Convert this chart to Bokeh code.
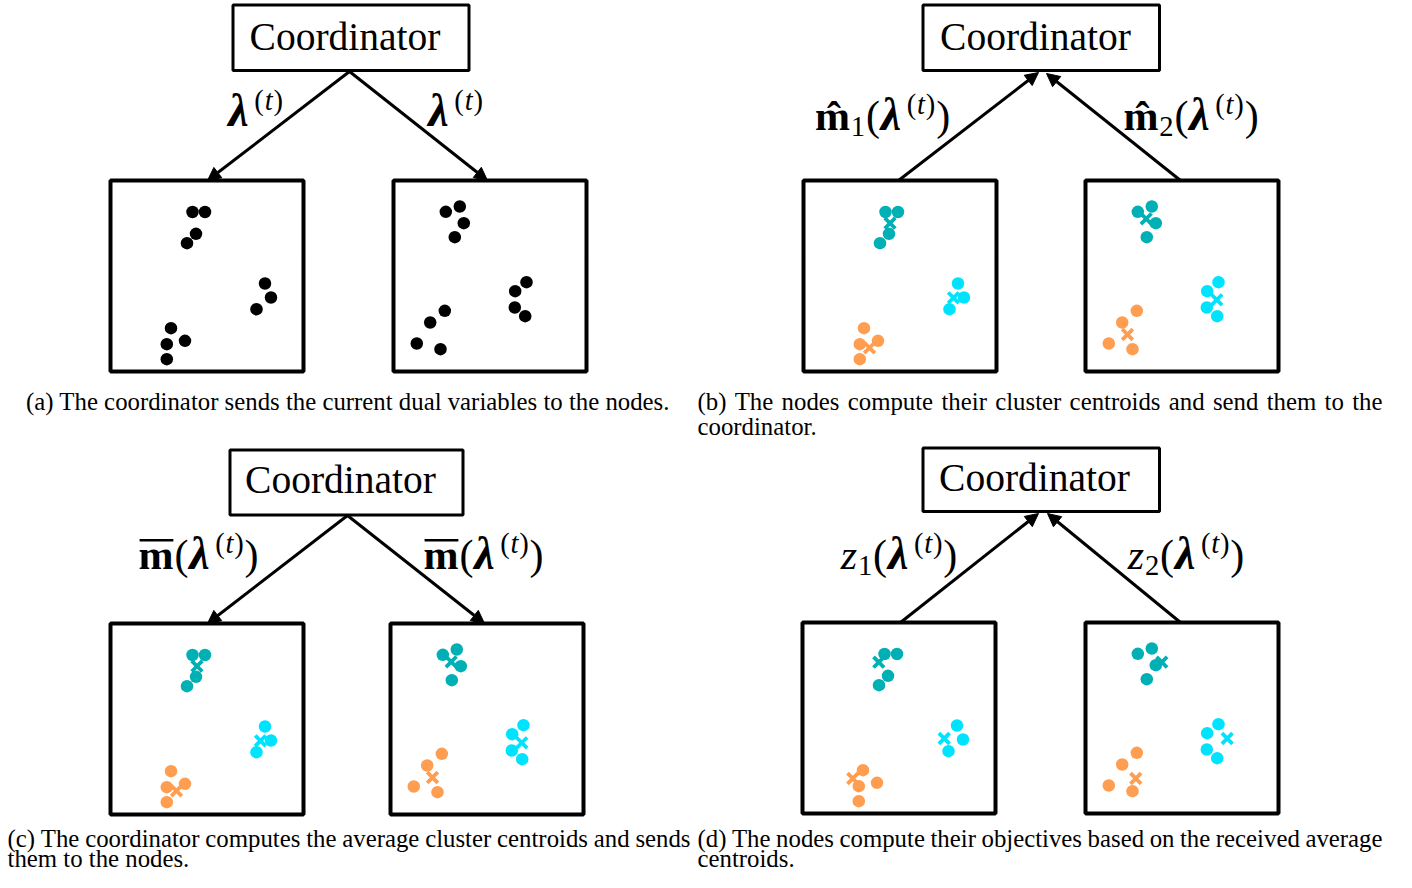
from bokeh.plotting import figure
from bokeh.models import Range1d, Arrow, NormalHead, ColumnDataSource
from bokeh.core.properties import value
from bokeh.embed import file_html
from bokeh.resources import INLINE

# ---------------- data (positions inside a node box, px from its top-left) -------------
node1_teal_x = [82.0, 94.5, 85.5, 76.5]
node1_teal_y = [31.5, 31.5, 53.3, 62.7]
node1_cyan_x = [154.5, 160.5, 146.0]
node1_cyan_y = [103.0, 117.0, 128.7]
node1_orange_x = [60.5, 74.5, 56.3, 56.3]
node1_orange_y = [147.7, 160.3, 163.7, 178.7]

node2_teal_x = [52.3, 66.3, 70.3, 61.3]
node2_teal_y = [31.3, 26.0, 42.7, 56.7]
node2_cyan_x = [133.0, 121.7, 121.3, 131.7]
node2_cyan_y = [101.7, 110.7, 127.0, 135.7]
node2_orange_x = [51.3, 36.7, 23.3, 47.0]
node2_orange_y = [130.3, 142.0, 163.0, 168.7]

# centroids: teal, cyan, orange
node1_centroid_x = [86.5, 150.0, 66.0]
node1_centroid_y = [42.7, 117.3, 167.3]
node2_centroid_x = [60.7, 131.3, 42.0]
node2_centroid_y = [38.3, 119.3, 154.0]
avg_centroid_x = [76.3, 141.7, 50.3]
avg_centroid_y = [39.7, 116.0, 156.0]

cluster_colors = ["#00B0B5", "#00E3FF", "#FF9D50"]

caption_a = "(a) The coordinator sends the current dual variables to the nodes."
caption_b = ["(b) The nodes compute their cluster centroids and send them to the", "coordinator."]
caption_c = ["(c) The coordinator computes the average cluster centroids and sends", "them to the nodes."]
caption_d = ["(d) The nodes compute their objectives based on the received average", "centroids."]
coordinator_label = "Coordinator"

# ---------------- figure ----------------
W, H = 1396, 872
p = figure(width=W, height=H, x_range=Range1d(0, W), y_range=Range1d(H, 0),
           output_backend="svg", toolbar_location=None, x_axis_type=None, y_axis_type=None,
           min_border=0, outline_line_color=None)

SERIF = value("Liberation Serif")
NODE_W, NODE_H = 193, 191
KB = 0.38   # baseline correction (fraction of font size)

panels = [
    dict(cbox=(232.5, 468.5, 4.5, 70.0), ctext=(344.5, 52.0),
         nodes=[(110, 180), (393, 180)], mode="black", crosses=None,
         arrows=[(349, 71, 207, 180), (349, 71, 487, 180)]),
    dict(cbox=(922.5, 1159.0, 4.5, 70.0), ctext=(1035.0, 52.0),
         nodes=[(803, 180), (1085, 180)], mode="color", crosses="local",
         arrows=[(898, 180, 1038, 72), (1180, 180, 1046, 73)]),
    dict(cbox=(229.5, 462.5, 449.5, 514.5), ctext=(340.0, 495.0),
         nodes=[(110, 623), (390, 623)], mode="color", crosses="local",
         arrows=[(347, 515, 207, 623), (347, 515, 484, 623)]),
    dict(cbox=(922.5, 1159.0, 447.5, 511.0), ctext=(1034.0, 493.0),
         nodes=[(802, 622), (1085, 622)], mode="color", crosses="avg",
         arrows=[(900, 622, 1038, 513), (1180, 622, 1047, 513)]),
]

node_pts = [
    [(node1_teal_x, node1_teal_y), (node1_cyan_x, node1_cyan_y), (node1_orange_x, node1_orange_y)],
    [(node2_teal_x, node2_teal_y), (node2_cyan_x, node2_cyan_y), (node2_orange_x, node2_orange_y)],
]
local_c = [(node1_centroid_x, node1_centroid_y), (node2_centroid_x, node2_centroid_y)]

CS = 39.5
for pn in panels:
    l, r, t, b = pn["cbox"]
    p.quad(left=[l], right=[r], top=[t], bottom=[b], fill_color=None, line_color="black", line_width=3)
    p.text(x=[pn["ctext"][0]], y=[pn["ctext"][1] - KB * CS], text=[coordinator_label], text_font=SERIF,
           text_font_size=f"{CS}px", text_align="center", text_baseline="alphabetic", text_color="black")
    for (xs, ys, xe, ye) in pn["arrows"]:
        p.add_layout(Arrow(end=NormalHead(size=13, fill_color="black", line_color="black", line_width=1),
                           x_start=xs, y_start=ys, x_end=xe, y_end=ye, line_width=3, line_color="black"))
    for k, (nx, ny) in enumerate(pn["nodes"]):
        p.quad(left=[nx], right=[nx + NODE_W], top=[ny], bottom=[ny + NODE_H],
               fill_color=None, line_color="black", line_width=4)
        for ci, (px_, py_) in enumerate(node_pts[k]):
            col = "black" if pn["mode"] == "black" else cluster_colors[ci]
            p.scatter(x=[nx + v for v in px_], y=[ny + v for v in py_], size=12.5,
                      marker="circle", fill_color=col, line_color=None)
        if pn["crosses"]:
            cx, cy = local_c[k] if pn["crosses"] == "local" else (avg_centroid_x, avg_centroid_y)
            p.scatter(x=[nx + v for v in cx], y=[ny + v for v in cy], marker="x", size=15,
                      line_color=cluster_colors, line_width=3.8)

# ---------------- math labels ----------------
MS = 42.0
LS = 46.0
MW = {("λ", "bold italic"): 0.55, ("(", "normal"): 0.333, (")", "normal"): 0.333,
      ("t", "italic"): 0.278, ("m\u0302", "bold"): 0.833, ("m", "bold"): 0.833,
      ("1", "normal"): 0.5, ("2", "normal"): 0.5, ("z", "italic"): 0.389}
lab = dict(x=[], y=[], text=[], size=[], style=[])
bars = dict(x0=[], x1=[], y=[])

def tok_size(t, lv):
    if lv:
        return MS * 0.68
    return LS if t == "λ" else MS

def math_label(cx, base, tokens, overline_first=False):
    ws = []
    for t, st, lv in tokens:
        ws.append(MW.get((t, st), 0.5) * tok_size(t, lv) + 0.8)
    x = cx - sum(ws) / 2
    for i, ((t, st, lv), w) in enumerate(zip(tokens, ws)):
        s = tok_size(t, lv)
        y = base - 0.38 * MS if lv == 1 else (base + 0.15 * MS if lv == -1 else base)
        lab["x"].append(x); lab["y"].append(y - KB * s); lab["text"].append(t)
        lab["size"].append(f"{s:.1f}px"); lab["style"].append(st)
        if i == 0 and overline_first:
            bars["x0"].append(x + 1); bars["x1"].append(x + w - 1); bars["y"].append(base - 0.72 * MS)
        x += w

sup_t = [("(", "normal", 1), ("t", "italic", 1), (")", "normal", 1)]
lam = [("(", "normal", 0), ("λ", "bold italic", 0)] + sup_t + [(")", "normal", 0)]

math_label(255.5, 127, [("λ", "bold italic", 0)] + sup_t)
math_label(455.5, 127, [("λ", "bold italic", 0)] + sup_t)
math_label(882.5, 131, [("m\u0302", "bold", 0), ("1", "normal", -1)] + lam)
math_label(1191.0, 131, [("m\u0302", "bold", 0), ("2", "normal", -1)] + lam)
math_label(198.5, 570, [("m", "bold", 0)] + lam, overline_first=True)
math_label(483.5, 570, [("m", "bold", 0)] + lam, overline_first=True)
math_label(899.0, 570, [("z", "italic", 0), ("1", "normal", -1)] + lam)
math_label(1186.0, 570, [("z", "italic", 0), ("2", "normal", -1)] + lam)

p.text(x="x", y="y", text="text", source=ColumnDataSource(lab), text_font=SERIF,
       text_font_size="size", text_font_style="style", text_align="left",
       text_baseline="alphabetic", text_color="black")
p.segment(x0="x0", x1="x1", y0="y", y1="y", source=ColumnDataSource(bars),
          line_color="black", line_width=2.5)

# ---------------- captions ----------------
TIMES = {' ': .25, 'a': .444, 'b': .5, 'c': .444, 'd': .5, 'e': .444, 'f': .333, 'g': .5, 'h': .5,
         'i': .278, 'j': .278, 'k': .5, 'l': .278, 'm': .778, 'n': .5, 'o': .5, 'p': .5, 'q': .5,
         'r': .333, 's': .389, 't': .278, 'u': .5, 'v': .5, 'w': .722, 'x': .5, 'y': .5, 'z': .444,
         'T': .611, '(': .333, ')': .333, '.': .25}
CAP = 24.8
cap = dict(x=[], y=[], text=[], align=[])

def tw(s):
    return sum(TIMES.get(c, 0.5) for c in s) * CAP

def put(x, y, s, align):
    cap["x"].append(x); cap["y"].append(y - KB * CAP); cap["text"].append(s); cap["align"].append(align)

def justified(line, x0, x1, y):
    words = line.split()
    widths = [tw(w) for w in words]
    gap = (x1 - x0 - sum(widths)) / (len(words) - 1)
    x = x0
    for w, wd in zip(words[:-1], widths[:-1]):
        put(x, y, w, "left")
        x += wd + gap
    put(x1, y, words[-1], "right")

put(347.5, 410, caption_a, "center")
justified(caption_b[0], 697, 1382, 410)
put(697, 435, caption_b[1], "left")
justified(caption_c[0], 7, 690, 847)
put(7, 867, caption_c[1], "left")
justified(caption_d[0], 697, 1382, 847)
put(697, 867, caption_d[1], "left")

p.text(x="x", y="y", text="text", text_align="align", source=ColumnDataSource(cap),
       text_font=SERIF, text_font_size=f"{CAP}px", text_baseline="alphabetic", text_color="black")

open("out.html", "w").write(file_html(p, INLINE))
